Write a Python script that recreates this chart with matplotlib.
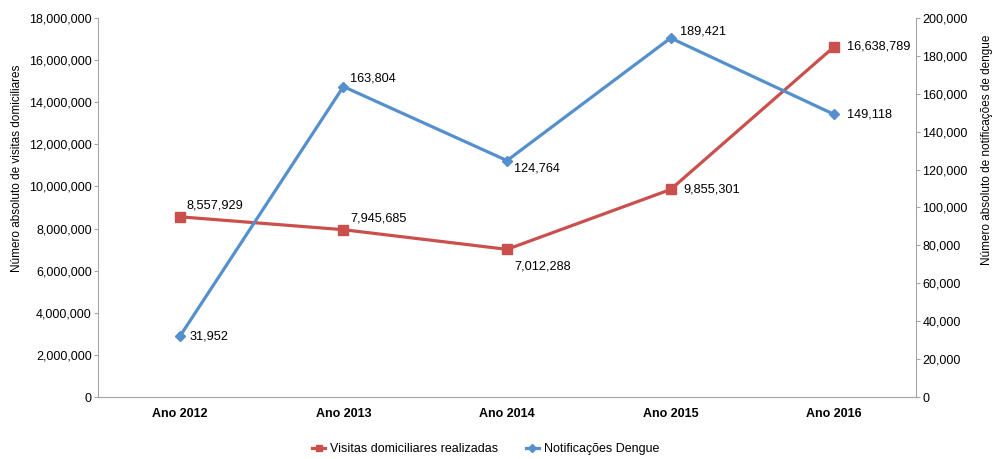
import matplotlib
matplotlib.use("Agg")
import matplotlib.pyplot as plt
from matplotlib.ticker import FuncFormatter
from matplotlib.lines import Line2D

plt.rcParams["font.family"] = ["Liberation Sans", "DejaVu Sans"]
plt.rcParams["font.size"] = 9

years = ["Ano 2012", "Ano 2013", "Ano 2014", "Ano 2015", "Ano 2016"]
visitas = [8557929, 7945685, 7012288, 9855301, 16638789]
notificacoes = [31952, 163804, 124764, 189421, 149118]

# label offsets in points (dx, dy) per point
visitas_off = [(5, 8), (5, 8), (5, -12), (9, 0), (9, 0)]
notif_off = [(7, 0), (5, 6), (5, -6), (7, 5), (9, 0)]

RED = "#C9504C"
BLUE = "#5590CC"
GRAY = "#A6A6A6"

W, H = 992, 459
fig = plt.figure(figsize=(W / 100, H / 100), dpi=100)
ax = fig.add_axes([98 / W, 1 - 397 / H, (916 - 98) / W, (397 - 18) / H])
ax2 = ax.twinx()

x = list(range(len(years)))
ax.plot(x, visitas, color=RED, lw=2.3, marker="s", ms=6.5, zorder=3)
ax2.plot(x, notificacoes, color=BLUE, lw=2.3, marker="D", ms=5, zorder=3)

for xi, v, off in zip(x, visitas, visitas_off):
    ax.annotate(f"{v:,}", (xi, v), xytext=off, textcoords="offset points",
                ha="left", va="center", fontsize=9.2)
for xi, v, off in zip(x, notificacoes, notif_off):
    ax2.annotate(f"{v:,}", (xi, v), xytext=off, textcoords="offset points",
                 ha="left", va="center", fontsize=9.2)

ax.set_xlim(-0.5, 4.5)
ax.set_ylim(0, 18000000)
ax.set_yticks(range(0, 18000001, 2000000))
ax2.set_ylim(0, 200000)
ax2.set_yticks(range(0, 200001, 20000))
fmt = FuncFormatter(lambda v, p: f"{int(v):,}")
ax.yaxis.set_major_formatter(fmt)
ax2.yaxis.set_major_formatter(fmt)

ax.set_xticks(x)
ax.set_xticklabels(years, fontweight="bold")
ax.tick_params(axis="x", length=0, pad=8)
ax.tick_params(axis="y", length=3, color=GRAY, pad=1.5)
ax2.tick_params(axis="y", length=3, color=GRAY, pad=1.5)

for a in (ax, ax2):
    a.spines["top"].set_visible(False)
    for s in ("left", "right", "bottom"):
        a.spines[s].set_color(GRAY)
ax2.spines["left"].set_visible(False)
ax.spines["right"].set_visible(False)

# axis titles placed in figure pixels
fig.text(17 / W, 1 - 168 / H, "Número absoluto de visitas domiciliares",
         rotation=90, ha="center", va="center", fontsize=8.5)
fig.text(987 / W, 1 - 150 / H, "Número absoluto de notificações de dengue",
         rotation=90, ha="center", va="center", fontsize=8.5)

handles = [
    Line2D([], [], color=RED, lw=2.3, marker="s", ms=4),
    Line2D([], [], color=BLUE, lw=2.3, marker="D", ms=4),
]
fig.legend(handles, ["Visitas domiciliares realizadas", "Notificações Dengue"],
           loc="center", bbox_to_anchor=(486 / W, 1 - 449 / H), ncol=2,
           frameon=False, handlelength=1.0, columnspacing=2.2, handletextpad=0.45)

fig.savefig("out.png", dpi=100)
